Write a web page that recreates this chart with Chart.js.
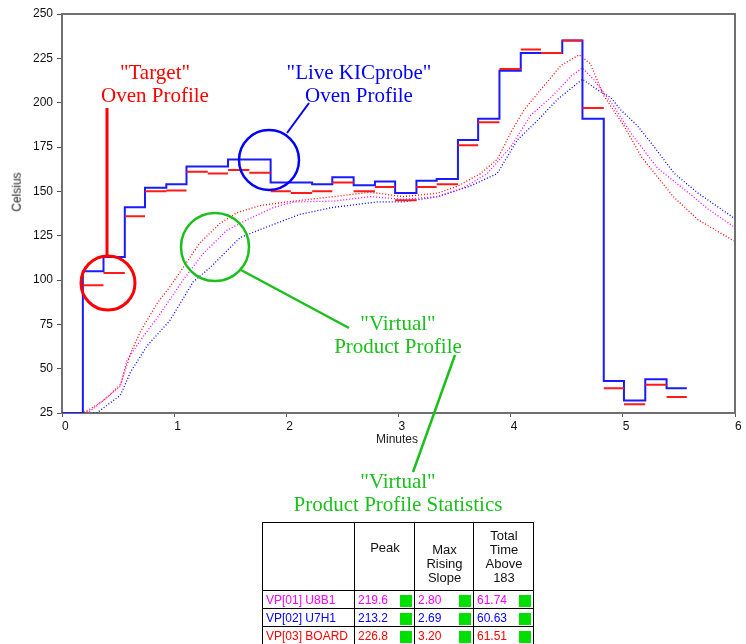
<!DOCTYPE html>
<html>
<head>
<meta charset="utf-8">
<script src="https://cdn.jsdelivr.net/npm/chart.js@4"></script>
<style>
  body { margin: 0; background: #fff; }
  #wrap { position: relative; width: 746px; height: 644px; overflow: hidden; }
  #chart { position: absolute; left: 0; top: 0; }
  .note { position: absolute; font-family: "Liberation Serif", serif; font-size: 21px; line-height: 23px; text-align: center; white-space: nowrap; }
  .axisTitle { position: absolute; font-family: "Liberation Sans", Arial, sans-serif; font-size: 12px; color: #222; white-space: nowrap; }
  #stats { position: absolute; left: 262px; top: 522px; width: 271px; table-layout: fixed; border-collapse: collapse; background: #fff;
           font-family: "Liberation Sans", Arial, sans-serif; font-size: 12px; }
  #stats td { border: 1px solid #000; padding: 0 2px 0 3px; height: 17px; white-space: nowrap; overflow: hidden; }
  #stats tr.head td { height: 67px; text-align: center; font-size: 13px; line-height: 14px; color: #111; }
  .sq { display: inline-block; width: 12px; height: 12px; background: #00e000; float: right; margin-top: 2px; }
</style>
</head>
<body>
<div id="wrap">
  <canvas id="chart" width="746" height="644"></canvas>

  <div class="note" style="left:95px; top:61px; width:120px; color:#ff0000;">"Target"<br>Oven Profile</div>
  <div class="note" style="left:279px; top:61px; width:160px; color:#0000ff;">"Live KICprobe"<br>Oven Profile</div>
  <div class="note" style="left:318px; top:312px; width:160px; color:#1cbf1c;">"Virtual"<br>Product Profile</div>
  <div class="note" style="left:278px; top:470px; width:240px; color:#1cbf1c;">"Virtual"<br>Product Profile Statistics</div>

  <div class="axisTitle" style="left:-3px; top:185px; transform: rotate(-90deg);">Celsius</div>
  <div class="axisTitle" style="left:376px; top:432px;">Minutes</div>

  <table id="stats">
    <colgroup><col style="width:92px"><col style="width:60px"><col style="width:59px"><col style="width:60px"></colgroup>
    <tr class="head">
      <td></td>
      <td><div style="position:relative; top:-9px;">Peak</div></td>
      <td><div style="position:relative; top:7px;">Max<br>Rising<br>Slope</div></td>
      <td>Total<br>Time<br>Above<br>183</td>
    </tr>
  </table>
</div>

<script>
// zone boundaries of the oven profile (minutes)
const zoneTimes = [0, 0.186, 0.37, 0.56, 0.74, 0.93, 1.11, 1.30, 1.48, 1.67, 1.86, 2.04, 2.23, 2.41, 2.60,
  2.79, 2.97, 3.16, 3.34, 3.53, 3.71, 3.90, 4.09, 4.27, 4.46, 4.64, 4.83, 5.01, 5.20, 5.39, 5.57];

// "Live KICprobe" oven profile, one value per zone
const liveTemp = [25, 105, 113, 141, 152, 154, 164, 164, 168, 168, 155, 155, 154, 158, 153.5,
  155.5, 149, 156, 157, 179, 191, 218, 228, 228, 235, 191, 43, 32, 44, 39];

// "Target" oven profile, one value per zone (none in the first)
const targetTemp = [null, 97, 104, 136, 150, 150.5, 161, 160, 162, 160.5, 150, 149, 150, 155, 150,
  152.5, 145, 152.5, 154, 176, 189, 219, 230, 228, 235, 197, 39, 30, 41, 34];

// virtual product profiles
const boardTime = [0.17, 0.22, 0.37, 0.52, 0.62, 0.70, 0.85, 0.96, 1.08, 1.23, 1.41, 1.56, 1.77, 2.0, 2.42,
  2.75, 3.04, 3.35, 3.53, 3.73, 3.88, 4.0, 4.12, 4.29, 4.45, 4.61, 4.71, 4.83, 5.01, 5.16, 5.31, 5.45, 5.67, 5.99];
const boardTemp = [25, 26, 32, 41, 60, 71, 87, 96, 107, 121, 132, 138, 142, 144, 147,
  149.5, 147, 149, 153, 160, 168, 183, 196, 209, 221, 227, 222, 204, 187, 170, 158, 147, 134, 122];

const u8b1Time = [0.19, 0.25, 0.52, 0.58, 0.70, 0.875, 1.08, 1.26, 1.47, 1.65, 1.89, 2.07, 2.42, 2.75, 3.04,
  3.35, 3.58, 3.79, 4.0, 4.18, 4.36, 4.54, 4.64, 4.74, 4.92, 5.07, 5.31, 5.55, 5.76, 5.99];
const u8b1Temp = [25, 26, 40, 55, 66, 81, 100, 115, 128, 134, 141, 144, 144.5, 147, 145.5,
  147, 152, 160, 175, 193, 203, 215, 219.6, 213, 198, 183, 163, 151, 140, 130];

const u7h1Time = [0.28, 0.31, 0.52, 0.61, 0.76, 0.96, 1.17, 1.32, 1.59, 1.83, 2.12, 2.42, 2.81, 3.04, 3.35,
  3.64, 3.88, 4.06, 4.24, 4.42, 4.64, 4.78, 4.89, 4.98, 5.13, 5.28, 5.46, 5.67, 5.99];
const u7h1Temp = [25, 25, 35, 48, 63, 77, 99, 107, 124, 130, 137, 141, 144, 144, 147,
  153, 160, 179, 190, 202, 213.2, 207, 203, 196, 187, 175, 160, 149, 135];

const xTicks = [0, 1, 2, 3, 4, 5, 6];
const yTicks = [25, 50, 75, 100, 125, 150, 175, 200, 225, 250];

// statistics table
const statNames = ["VP[01] U8B1", "VP[02] U7H1", "VP[03] BOARD"];
const statPeak = ["219.6", "213.2", "226.8"];
const statSlope = ["2.80", "2.69", "3.20"];
const statAbove = ["61.74", "60.63", "61.51"];
const statColors = ["#ff00ff", "#0000ff", "#ff0000"];

/* --------------- Table --------------------- */
const table = document.getElementById("stats");
statNames.forEach((name, i) => {
  const tr = document.createElement("tr");
  tr.style.color = statColors[i];
  tr.innerHTML = `<td>${name}</td>` +
    [statPeak[i], statSlope[i], statAbove[i]].map(v => `<td>${v}<span class="sq"></span></td>`).join("");
  table.appendChild(tr);
});

/* --------------- Datasets --------------------- */
const targetPoints = [];
targetTemp.forEach((v, i) => {
  if (v === null) return;
  targetPoints.push({ x: zoneTimes[i], y: v }, { x: zoneTimes[i + 1], y: v }, { x: zoneTimes[i + 1], y: null });
});
const livePoints = liveTemp.map((v, i) => ({ x: zoneTimes[i], y: v }));
livePoints.push({ x: zoneTimes[zoneTimes.length - 1], y: liveTemp[liveTemp.length - 1] });

const toPoints = (ts, vs) => ts.map((t, i) => ({ x: t, y: vs[i] }));

const dotted = (data, color) => ({
  data, borderColor: color, borderWidth: 1.3, borderDash: [1, 2],
  pointRadius: 0, tension: 0, fill: false
});

/* --------------- Frame and call-outs --------------------- */
const callouts = {
  id: "callouts",
  beforeDatasetsDraw(chart) {
    const { ctx, chartArea: a } = chart;
    ctx.save();
    ctx.strokeStyle = "#707070";
    ctx.lineWidth = 2;
    ctx.strokeRect(a.left, a.top, a.right - a.left, a.bottom - a.top);
    ctx.restore();
  },
  afterDraw(chart) {
    const { ctx } = chart;
    ctx.save();
    const circle = (x, y, r, color, w) => {
      ctx.beginPath(); ctx.strokeStyle = color; ctx.lineWidth = w;
      ctx.arc(x, y, r, 0, Math.PI * 2); ctx.stroke();
    };
    const line = (x1, y1, x2, y2, color, w) => {
      ctx.beginPath(); ctx.strokeStyle = color; ctx.lineWidth = w;
      ctx.moveTo(x1, y1); ctx.lineTo(x2, y2); ctx.stroke();
    };
    circle(108, 283, 27, "#ff0000", 3);
    line(107, 108, 107, 256, "#ff0000", 3);
    circle(269, 160, 30, "#0000ff", 2.5);
    line(287, 133, 309, 103, "#0000ff", 2);
    circle(215, 247, 34, "#1cbf1c", 2.5);
    line(241, 270, 349, 328, "#1cbf1c", 2.5);
    line(455, 355, 413, 472, "#1cbf1c", 2.5);
    ctx.restore();
  }
};

/* --------------- Chart --------------------- */
new Chart(document.getElementById("chart"), {
  type: "line",
  plugins: [callouts],
  data: {
    datasets: [
      { label: "Target", data: targetPoints, borderColor: "#ff1a1a", borderWidth: 2, pointRadius: 0, spanGaps: false },
      { label: "Live KICprobe", data: livePoints, borderColor: "#1a1aff", borderWidth: 2, pointRadius: 0, stepped: "before" },
      dotted(toPoints(boardTime, boardTemp), "#ff0000"),
      dotted(toPoints(u8b1Time, u8b1Temp), "#ff00ff"),
      dotted(toPoints(u7h1Time, u7h1Temp), "#0000ff"),
    ],
  },
  options: {
    responsive: false,
    animation: false,
    layout: { padding: { top: 14, right: 11, left: 0, bottom: 0 } },
    plugins: { legend: { display: false }, tooltip: { enabled: false } },
    scales: {
      x: {
        type: "linear", min: 0, max: 6,
        afterBuildTicks: (s) => { s.ticks = xTicks.map(v => ({ value: v })); },
        afterFit: (s) => { s.height = 231; },
        grid: { drawOnChartArea: false, tickLength: 4, color: "#555" },
        border: { display: false },
        ticks: { align: "start", padding: 2, color: "#111", font: { family: "Liberation Sans", size: 12 } },
      },
      y: {
        min: 25, max: 250,
        afterBuildTicks: (s) => { s.ticks = yTicks.map(v => ({ value: v })); },
        afterFit: (s) => { s.width = 62; },
        grid: { drawOnChartArea: false, tickLength: 5, color: "#555" },
        border: { display: false },
        ticks: { padding: 4, color: "#111", font: { family: "Liberation Sans", size: 12 } },
      },
    },
  },
});
</script>
</body>
</html>
